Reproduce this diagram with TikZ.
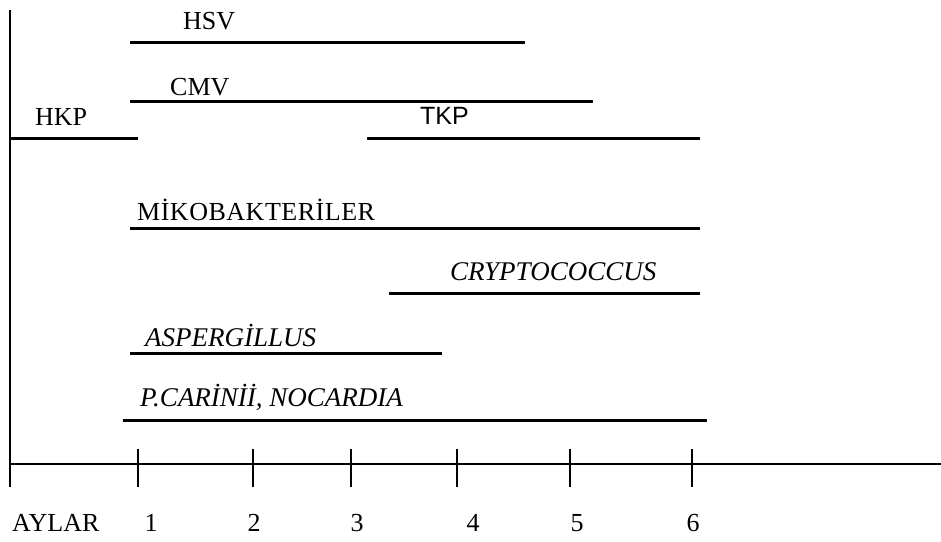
\documentclass[tikz,border=0pt]{standalone}
\usepackage{fontspec}
\setmainfont{Liberation Serif}
\newfontfamily\tkpfont{Liberation Sans}
\begin{document}
\begin{tikzpicture}[x=1pt,y=-1pt,
  axisline/.style={line width=2pt},
  period/.style={line width=3pt},
  tickmark/.style={line width=2pt},
  lbl/.style={anchor=west,inner sep=0pt,font=\fontsize{26}{28}\selectfont},
  ilbl/.style={lbl,font=\fontsize{27}{29}\selectfont\itshape},
  num/.style={inner sep=0pt,font=\fontsize{26}{28}\selectfont}]
\useasboundingbox (0,0) rectangle (941,541);
% axes
\coordinate (o) at (10,464);
\coordinate (ytop) at (10,10);
\coordinate (ybot) at (10,487);
\coordinate (xend) at (941,464);
\draw[axisline] (ytop) -- (ybot);
\draw[axisline] (o) -- (xend);
% month ticks and labels
\foreach \n/\x/\lx in {1/138/151,2/253/254,3/351/357,4/457/473,5/570/577,6/692/693}{
  \coordinate (t\n a) at (\x,449);
  \coordinate (t\n b) at (\x,487);
  \draw[tickmark] (t\n a) -- (t\n b);
  \node[num] (m\n) at (\lx,523) {\n};
}
\node[lbl] (aylar) at (12,523) {AYLAR};
% HSV
\node[lbl] (hsvl) at (183,21) {HSV};
\coordinate (hsva) at (130,42); \coordinate (hsvb) at (525,42);
\draw[period] (hsva) -- (hsvb);
% CMV
\node[lbl] (cmvl) at (170,87) {CMV};
\coordinate (cmva) at (130,101); \coordinate (cmvb) at (593,101);
\draw[period] (cmva) -- (cmvb);
% HKP
\node[lbl] (hkpl) at (35,117) {HKP};
\coordinate (hkpa) at (10,138); \coordinate (hkpb) at (138,138);
\draw[period] (hkpa) -- (hkpb);
% TKP
\node[lbl,font=\fontsize{25}{27}\tkpfont] (tkpl) at (420,116) {TKP};
\coordinate (tkpa) at (367,138); \coordinate (tkpb) at (700,138);
\draw[period] (tkpa) -- (tkpb);
% Mycobacteria
\node[lbl] (mikl) at (137,210) {\addfontfeature{LetterSpace=2}MİKOBAKTERİLER};
\coordinate (mika) at (130,228); \coordinate (mikb) at (700,228);
\draw[period] (mika) -- (mikb);
% Cryptococcus
\node[ilbl] (cryl) at (450,272) {CRYPTOCOCCUS};
\coordinate (crya) at (389,293); \coordinate (cryb) at (700,293);
\draw[period] (crya) -- (cryb);
% Aspergillus
\node[ilbl] (aspl) at (145,335) {ASPERGİLLUS};
\coordinate (aspa) at (130,353); \coordinate (aspb) at (442,353);
\draw[period] (aspa) -- (aspb);
% P. carinii, Nocardia
\node[ilbl] (pcal) at (140,397) {P.CARİNİİ, NOCARDIA};
\coordinate (pcaa) at (123,420); \coordinate (pcab) at (707,420);
\draw[period] (pcaa) -- (pcab);
\end{tikzpicture}
\end{document}
